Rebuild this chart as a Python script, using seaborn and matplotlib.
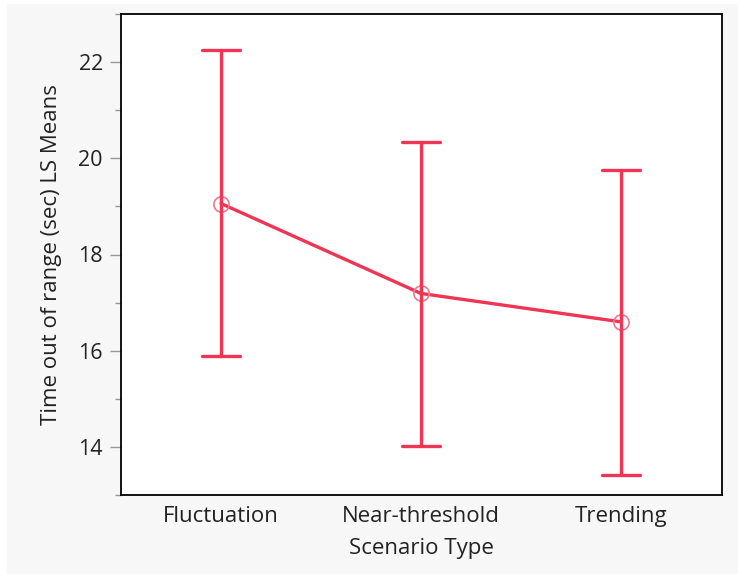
import numpy as np
import pandas as pd
import matplotlib
matplotlib.use("Agg")
import matplotlib.pyplot as plt
from matplotlib.patches import Rectangle
from matplotlib.ticker import MultipleLocator
import seaborn as sns

categories = ["Fluctuation", "Near-threshold", "Trending"]
ls_means = [19.06, 17.19, 16.60]
lower_ci = [15.90, 14.02, 13.42]
upper_ci = [22.25, 20.33, 19.75]
y_ticks = [14, 16, 18, 20, 22]

rows = []
for c, lo, m, hi in zip(categories, lower_ci, ls_means, upper_ci):
    for v in (lo, m, hi):
        rows.append({"Scenario Type": c, "value": v})
df = pd.DataFrame(rows)

sns.set_theme(style="white")
plt.rcParams["font.family"] = ["Open Sans", "DejaVu Sans"]

RED = "#ef3553"
fig = plt.figure(figsize=(7.38, 5.74), dpi=100, facecolor="white")
fig.patches.append(Rectangle((7 / 738, 0), 1, 1 - 4 / 574, transform=fig.transFigure,
                             facecolor="#f7f7f7", edgecolor="none", zorder=-10))
ax = fig.add_axes([121 / 738, 1 - 495 / 574, 601 / 738, 481 / 574])
ax.set_facecolor("white")

sns.pointplot(data=df, x="Scenario Type", y="value", order=categories,
              estimator="median", errorbar=("pi", 100),
              color=RED, capsize=0.19, linewidth=2.4,
              err_kws={"linewidth": 2.4, "color": RED},
              marker="o", markersize=11, markerfacecolor="none",
              markeredgecolor="#f07a8c", markeredgewidth=1.2, ax=ax)

# thicker caps
for ln in ax.lines:
    xd = np.asarray(ln.get_xdata(), dtype=float)
    yd = np.asarray(ln.get_ydata(), dtype=float)
    if len(xd) == 2 and np.isclose(yd[0], yd[1]):
        ln.set_linewidth(3.3)
        ln.set_solid_capstyle("butt")

ax.set_xlim(-0.5, 2.505)
ax.set_ylim(13, 23)
ax.set_yticks(y_ticks)
ax.yaxis.set_minor_locator(MultipleLocator(1))
ax.tick_params(axis="y", which="major", length=8, width=1, color="#999999",
               labelsize=15.5, labelcolor="#222222", pad=5, left=True)
ax.tick_params(axis="y", which="minor", length=4, width=1, color="#999999", left=True)
ax.tick_params(axis="x", length=0, labelsize=16, labelcolor="#222222", pad=8)

for s in ax.spines.values():
    s.set_visible(True)
    s.set_color("black")
    s.set_linewidth(1.3)

ax.set_xlabel("Scenario Type", fontsize=16, color="#222222", labelpad=8)
ax.set_ylabel("Time out of range (sec) LS Means", fontsize=16, color="#222222", labelpad=12)

fig.savefig("out.png", dpi=100, facecolor=fig.get_facecolor())
